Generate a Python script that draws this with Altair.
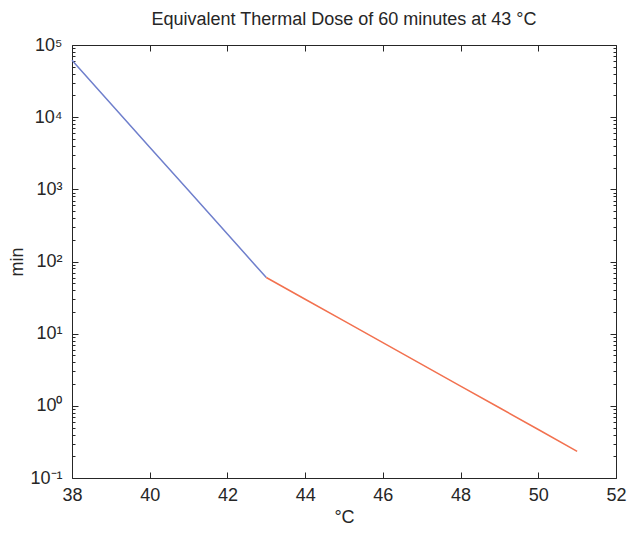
import altair as alt
import pandas as pd

# Data
temp_low = [38, 39, 40, 41, 42, 43]
dose_low = [61440, 15360, 3840, 960, 240, 60]
temp_high = [43, 44, 45, 46, 47, 48, 49, 50, 51]
dose_high = [60, 30, 15, 7.5, 3.75, 1.875, 0.94, 0.47, 0.234]

x_ticks = [38, 40, 42, 44, 46, 48, 50, 52]
decades = [0.1, 1, 10, 100, 1000, 10000, 100000]
decade_labels = ["10⁻¹", "10⁰", "10¹", "10²", "10³", "10⁴", "10⁵"]
y_ticks = []
for d in decades[:-1]:
    for m in range(1, 10):
        y_ticks.append(round(d * m, 6))
y_ticks.append(100000)

df = pd.DataFrame({
    "T": temp_low + temp_high,
    "dose": dose_low + dose_high,
    "seg": ["low"] * len(temp_low) + ["high"] * len(temp_high),
})

W, H = 544, 433
FONT = "Liberation Sans, Arial, sans-serif"
AX = "#262626"

major_test = "indexof([" + ",".join(str(d) for d in decades) + "], datum.value) >= 0"
label_expr = " : ".join(
    f"datum.value == {d} ? '{l}'" for d, l in zip(decades, decade_labels)
) + " : ''"

xscale = alt.Scale(domain=[38, 52], nice=False, zero=False)
yscale = alt.Scale(type="log", domain=[0.1, 100000], nice=False)

y_tick = {"condition": {"test": major_test, "value": 6}, "value": 3}

base_axis = dict(
    grid=False, domain=False, tickColor=AX, tickWidth=1,
    labelFont=FONT, labelFontSize=18, labelColor=AX, labelFlush=False,
    titleFont=FONT, titleFontSize=18, titleFontWeight="normal", titleColor=AX,
)

line = alt.Chart(df).mark_line(strokeWidth=1.5).encode(
    x=alt.X("T:Q", scale=xscale,
            axis=alt.Axis(values=x_ticks, title="°C", ticks=False, labelPadding=8,
                          titlePadding=4, **base_axis)),
    y=alt.Y("dose:Q", scale=yscale,
            axis=alt.Axis(values=y_ticks, labelExpr=label_expr, title="min",
                          ticks=False, labelPadding=10, titleX=-46, **base_axis)),
    color=alt.Color("seg:N", scale=alt.Scale(domain=["low", "high"],
                                             range=["#6f7fcc", "#f2714f"]),
                    legend=None),
    detail="seg:N",
)


def tick_layer(x_orient, y_orient):
    # axes placed on the opposite side with a negative offset so ticks point inward
    return alt.Chart(df).mark_line(opacity=0).encode(
        x=alt.X("T:Q", scale=xscale,
                axis=alt.Axis(values=x_ticks, orient=x_orient, offset=-H, labels=False,
                              title=None, tickSize=6, **base_axis)),
        y=alt.Y("dose:Q", scale=yscale,
                axis=alt.Axis(values=y_ticks, orient=y_orient, offset=-W, labels=False,
                              title=None, tickSize=y_tick, **base_axis)),
    )


chart = alt.layer(
    line, tick_layer("top", "right"), tick_layer("bottom", "left")
).resolve_axis(x="independent", y="independent").properties(
    width=W, height=H,
    autosize=alt.AutoSizeParams(type="none"),
    padding={"left": 64, "top": 37, "right": 11, "bottom": 48},
    title=alt.Title("Equivalent Thermal Dose of 60 minutes at 43 °C",
                    font=FONT, fontSize=18, fontWeight="normal", color=AX, offset=7),
).configure_view(stroke=AX, strokeWidth=1)

chart.save("out.html", embed_options={"renderer": "svg", "actions": False})
